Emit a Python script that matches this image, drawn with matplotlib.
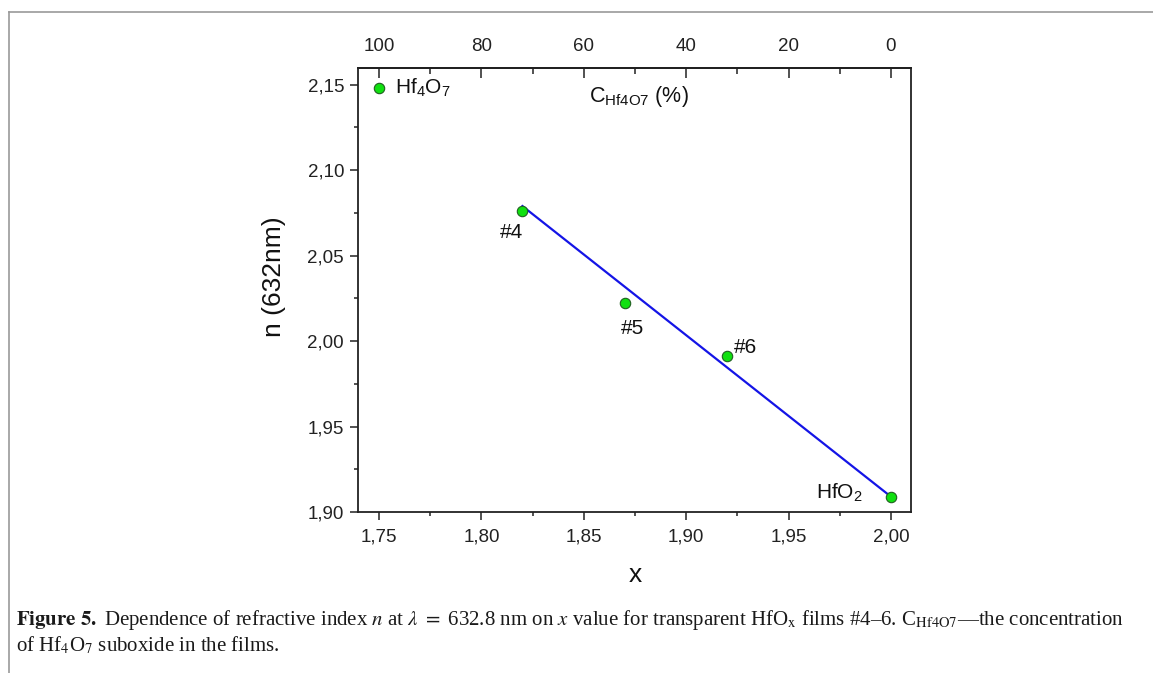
import numpy as np
import matplotlib
matplotlib.use('Agg')
import matplotlib.pyplot as plt
from matplotlib.ticker import FuncFormatter, MultipleLocator
from matplotlib.lines import Line2D

plt.rcParams['font.family'] = 'Liberation Sans'
plt.rcParams['mathtext.fontset'] = 'custom'
plt.rcParams['mathtext.rm'] = 'Liberation Sans'
plt.rcParams['mathtext.it'] = 'Liberation Sans:italic'
plt.rcParams['mathtext.bf'] = 'Liberation Sans:bold'

# data
x_pts = [1.75, 1.82, 1.87, 1.92, 2.00]
n_pts = [2.148, 2.076, 2.022, 1.991, 1.909]
pt_labels = ['Hf$_4$O$_7$', '#4', '#5', '#6', 'HfO$_2$']
label_pos = [(1.7578, 2.148), (1.8148, 2.0634), (1.874, 2.0076), (1.9235, 1.9964), (1.975, 1.9111)]
label_ha = ['left', 'center', 'center', 'left', 'center']

fit_x = [1.82, 2.00]
fit_n = [2.079, 1.909]

fig = plt.figure(figsize=(11.53, 6.73), dpi=100)
ax = fig.add_axes([0.3105, 0.2392, 0.4796, 0.6598])

ax.plot(fit_x, fit_n, color='#1414e6', lw=1.6, zorder=2)
ax.plot(x_pts, n_pts, 'o', ms=7.5, mfc='#10e010', mec='#206020', mew=0.8, zorder=3)

for lab, (lx, ly), ha in zip(pt_labels, label_pos, label_ha):
    ax.text(lx, ly, lab, fontsize=15, ha=ha, va='center', color='#111111')

ax.set_xlim(1.7397, 2.0098)
ax.set_ylim(1.90, 2.1598)

comma = FuncFormatter(lambda v, p: ('%.2f' % v).replace('.', ','))
ax.xaxis.set_major_locator(MultipleLocator(0.05))
ax.xaxis.set_minor_locator(MultipleLocator(0.025))
ax.yaxis.set_major_locator(MultipleLocator(0.05))
ax.yaxis.set_minor_locator(MultipleLocator(0.025))
ax.xaxis.set_major_formatter(comma)
ax.yaxis.set_major_formatter(comma)

for s in ax.spines.values():
    s.set_linewidth(1.3)
    s.set_color('#222222')

ax.tick_params(which='major', direction='out', length=6, width=1.1, labelsize=13.5, pad=4, colors='#222222')
ax.tick_params(axis='x', which='major', pad=6)
ax.tick_params(which='minor', direction='out', length=3, width=1.1, colors='#222222')
ax.tick_params(top=False, right=False, which='both')

sec = ax.secondary_xaxis('top', functions=(lambda v: (2.0 - v) * 400.0, lambda c: 2.0 - c / 400.0))
sec.xaxis.set_major_locator(MultipleLocator(20))
sec.xaxis.set_minor_locator(MultipleLocator(10))
sec.xaxis.set_major_formatter(FuncFormatter(lambda v, p: '%d' % round(v)))
sec.tick_params(which='major', direction='in', length=7, width=1.1, labelsize=13.5, pad=9, colors='#222222')
sec.tick_params(which='minor', direction='in', length=4, width=1.1, colors='#222222')
sec.spines['top'].set_linewidth(1.3)

ax.text(1.877, 2.143, r'C$_{\rm Hf4O7}$ (%)', fontsize=15.5, ha='center', va='center', color='#111111')
ax.text(-0.152, 0.529, 'n (632nm)', transform=ax.transAxes, rotation=90,
        fontsize=19, ha='center', va='center', color='#111111')
ax.text(0.501, -0.142, 'x', transform=ax.transAxes, fontsize=19,
        ha='center', va='center', color='#111111')

# page frame
fig.add_artist(Line2D([9 / 1153, 1.0], [1 - 12 / 673] * 2, transform=fig.transFigure, color='#999999', lw=1.2))
fig.add_artist(Line2D([9 / 1153] * 2, [0.0, 1 - 12 / 673], transform=fig.transFigure, color='#999999', lw=1.2))

# caption
cap1 = (r'$\mathbf{Figure\ 5.}$ Dependence of refractive index $n$ at $\lambda\ =\ $632.8 nm on $x$ value '
        r'for transparent HfO$_{\mathrm{x}}$ films #4–6. C$_{\mathrm{Hf4O7}}$—the concentration')
cap2 = r'of Hf$_4$O$_7$ suboxide in the films.'
for txt, yy in [(cap1, 1 - 620 / 673), (cap2, 1 - 645 / 673)]:
    fig.text(16 / 1153, yy, txt, fontsize=15, family='Liberation Serif', math_fontfamily='stix',
             ha='left', va='center', color='#1a1a1a')

fig.savefig('out.png', dpi=100)
